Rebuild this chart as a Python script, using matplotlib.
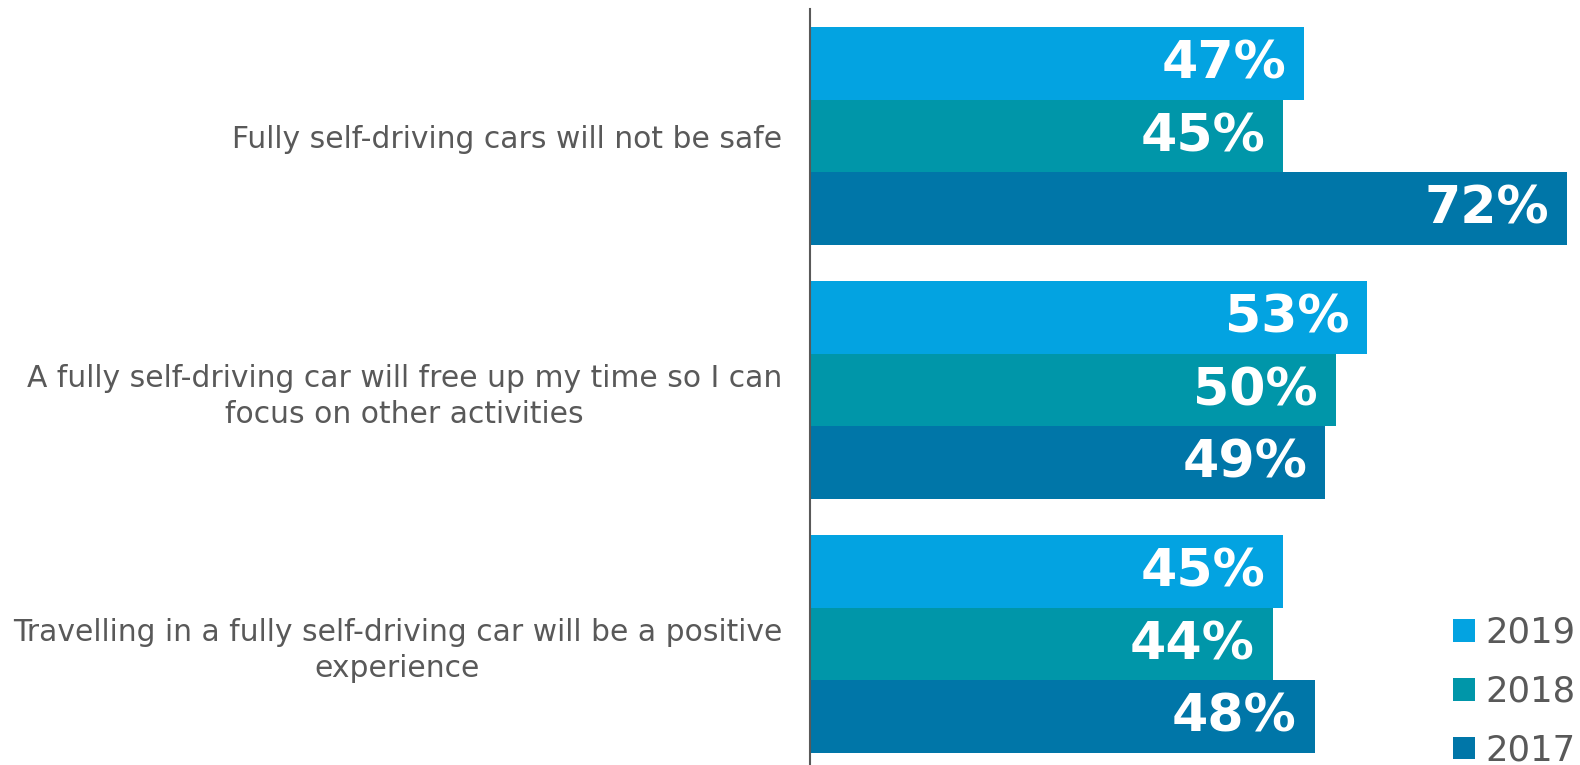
import matplotlib
matplotlib.use("Agg")
import matplotlib.pyplot as plt
import matplotlib.transforms as mtransforms
import numpy as np

plt.rcParams["font.family"] = ["DejaVu Sans"]

categories = [
    "Fully self-driving cars will not be safe",
    "A fully self-driving car will free up my time so I can\nfocus on other activities",
    "Travelling in a fully self-driving car will be a positive\nexperience",
]
years = ["2019", "2018", "2017"]
values_2019 = [47, 53, 45]
values_2018 = [45, 50, 44]
values_2017 = [72, 49, 48]
colors = ["#03A3E1", "#0096A9", "#0076A8"]

series = [values_2019, values_2018, values_2017]

W, H = 1580, 765
fig = plt.figure(figsize=(W / 100, H / 100), dpi=100)
ax_left = 810 / W
ax_right = 1567 / W
ax_bottom = 0.0
ax_top = (765 - 9) / H
ax = fig.add_axes([ax_left, ax_bottom, ax_right - ax_left, ax_top - ax_bottom])

bar_h = 72.6 / 254
y = np.arange(len(categories))
text_color = "#595959"

for i, (vals, yr, col) in enumerate(zip(series, years, colors)):
    pos = y + (i - 1) * bar_h
    bars = ax.barh(pos, vals, height=bar_h, color=col, label=yr, edgecolor="none")
    for b, v in zip(bars, vals):
        ax.annotate(f"{v}%", xy=(b.get_width(), b.get_y() + b.get_height() / 2),
                    xytext=(-18, -1), textcoords="offset pixels",
                    ha="right", va="center", color="white",
                    fontsize=37.5, fontweight="bold")

ax.set_xlim(0, 72)
ax.set_ylim(2.476, -0.5)
ax.set_yticks(y)
ax.set_yticklabels(categories, fontsize=21.4, color=text_color, linespacing=1.3)
offset = mtransforms.ScaledTranslation(0, 4 / 100, fig.dpi_scale_trans)
for t in ax.get_yticklabels():
    t.set_multialignment("center")
    t.set_transform(t.get_transform() + offset)
ax.tick_params(axis="y", length=0, pad=20)
ax.set_xticks([])
for s in ["top", "right", "bottom"]:
    ax.spines[s].set_visible(False)
ax.spines["left"].set_color(text_color)
ax.spines["left"].set_linewidth(1.5)

leg = fig.legend(loc="lower right", bbox_to_anchor=(1.0 - 1 / W, -6 / H),
                 frameon=False, fontsize=25.5, labelcolor=text_color,
                 handlelength=0.62, handleheight=0.62, handletextpad=0.3,
                 labelspacing=0.7, borderaxespad=0, borderpad=0.1)

fig.savefig("out.png", dpi=100)
